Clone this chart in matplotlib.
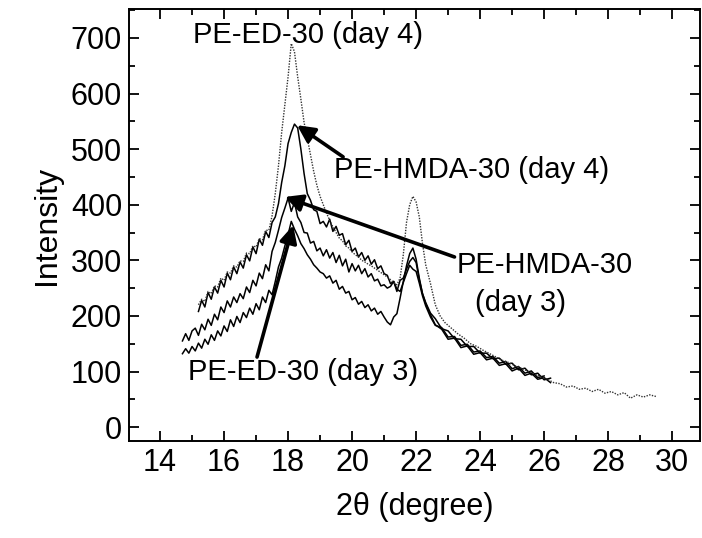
import numpy as np
import matplotlib
matplotlib.use("Agg")
import matplotlib.pyplot as plt
from matplotlib.ticker import MultipleLocator

plt.rcParams['font.family'] = ['Liberation Sans', 'DejaVu Sans']

# PE-ED-30 (day 3), sampled every 0.1 deg from 14.7 to 22.3, then the tail
ed3_y = [132, 141, 133,
         145, 137, 151, 142, 158, 149, 166, 156, 173, 164,
         182, 172, 193, 181, 199, 188, 206, 197, 214, 203,
         222, 211, 234, 224, 246, 238, 262, 288, 304, 326,
         346, 370, 356, 344, 330, 321, 310, 302, 292, 286,
         279, 276, 268, 272, 259, 264, 248, 253, 241, 244,
         229, 233, 221, 226, 215, 220, 209, 214, 203, 208,
         198, 189, 184, 198, 204, 232, 262, 290, 312, 322,
         302, 268, 240, 222]
ed3_tx = [22.45, 22.6, 22.8, 23.0, 23.2, 23.4, 23.6, 23.8, 24.0, 24.2,
          24.4, 24.6, 24.8, 25.0, 25.2, 25.4, 25.6, 25.8, 26.0, 26.2]
ed3_ty = [202, 184, 176, 158, 160, 143, 146, 131, 134, 121,
          124, 111, 114, 101, 106, 93, 97, 86, 89, 80]

# PE-HMDA-30 (day 3), 14.7 to 22.3
hm3_y = [155, 168, 156,
         173, 178, 165, 185, 175, 194, 183, 203, 193, 216,
         206, 227, 216, 234, 224, 240, 231, 252, 242, 264,
         254, 277, 267, 292, 281, 316, 332, 354, 377, 394,
         412, 388, 404, 378, 368, 350, 349, 331, 334, 317,
         322, 308, 319, 304, 314, 296, 309, 290, 302, 279,
         294, 281, 291, 276, 285, 270, 276, 263, 266, 254,
         256, 250, 253, 262, 248, 244, 260, 276, 291, 284,
         280, 259, 236, 218]
hm3_tx = [22.45, 22.6, 22.8, 23.0, 23.2, 23.4, 23.6, 23.8, 24.0, 24.2,
          24.4, 24.6, 24.8, 25.0, 25.2, 25.4, 25.6, 25.8, 26.0]
hm3_ty = [198, 183, 179, 162, 163, 147, 149, 135, 137, 125,
          127, 115, 118, 105, 109, 97, 101, 89, 92]

# PE-HMDA-30 (day 4), 15.2 to 22.3
hm4_y = [208, 228, 216, 242, 230, 252, 241, 264,
         252, 277, 265, 288, 276, 297, 286, 310, 299, 324,
         312, 338, 327, 352, 341, 368, 378, 402, 440, 470,
         510, 530, 545, 538, 500, 456, 420, 408, 391, 388,
         366, 370, 360, 374, 352, 361, 345, 348, 328, 336,
         316, 322, 306, 314, 300, 308, 293, 301, 285, 290,
         276, 273, 258, 262, 244, 264, 268, 284, 298, 305,
         296, 265, 240, 224]
hm4_tx = [22.45, 22.6, 22.8, 23.0, 23.2, 23.4, 23.6, 23.8, 24.0, 24.2,
          24.4, 24.6, 24.8, 25.0, 25.2, 25.4, 25.6, 25.8, 26.0, 26.2]
hm4_ty = [205, 195, 177, 173, 159, 158, 145, 145, 133, 133,
          123, 124, 113, 115, 103, 106, 94, 97, 85, 88]

# PE-ED-30 (day 4), 15.2 to 22.3
ed4_y = [220, 230, 226, 244, 240, 254, 252, 268,
         264, 279, 277, 290, 288, 299, 298, 313, 312, 326,
         324, 339, 337, 354, 354, 380, 420, 470, 530, 580,
         630, 690, 675, 630, 590, 548, 520, 490, 460, 435,
         415, 400, 385, 372, 360, 350, 340, 335, 326, 322,
         315, 310, 306, 300, 297, 293, 290, 286, 282, 278,
         274, 270, 265, 260, 256, 268, 310, 368, 400, 415,
         405, 378, 330, 292]
ed4_tx = [22.45, 22.6, 22.75, 22.9, 23.1, 23.3, 23.5, 23.7, 23.9, 24.1,
          24.3, 24.5, 24.7, 24.9, 25.1, 25.3, 25.5, 25.7, 25.9, 26.1,
          26.3, 26.5, 26.7, 26.9, 27.1, 27.3, 27.5, 27.7, 27.9, 28.1,
          28.3, 28.5, 28.7, 28.9, 29.1, 29.3, 29.5]
ed4_ty = [258, 220, 200, 188, 178, 168, 160, 150, 145, 138,
          132, 126, 120, 116, 110, 106, 100, 96, 90, 86,
          80, 78, 72, 74, 68, 70, 64, 68, 61, 64,
          58, 62, 52, 58, 54, 58, 55]


def build(x0, x1, y, tx, ty):
    x = np.linspace(x0, x1, len(y))
    return np.concatenate([x, tx]), np.concatenate([y, ty])


fig = plt.figure(figsize=(7.02, 5.38), dpi=100)
ax = fig.add_axes([129 / 702, 1 - 441 / 538, 571 / 702, 432 / 538])

x, y = build(14.7, 22.3, ed3_y, ed3_tx, ed3_ty)
ax.plot(x, y, color='k', lw=1.1)
x, y = build(14.7, 22.3, hm3_y, hm3_tx, hm3_ty)
ax.plot(x, y, color='k', lw=1.1)
x, y = build(15.2, 22.3, hm4_y, hm4_tx, hm4_ty)
ax.plot(x, y, color='k', lw=1.1)
x, y = build(15.2, 22.3, ed4_y, ed4_tx, ed4_ty)
ax.plot(x, y, color='#333333', lw=1.0, ls=(0, (1, 1)))

ax.set_xlim(13.03, 30.87)
ax.set_ylim(-25, 752)
ax.xaxis.set_major_locator(MultipleLocator(2))
ax.xaxis.set_minor_locator(MultipleLocator(1))
ax.yaxis.set_major_locator(MultipleLocator(100))
ax.yaxis.set_minor_locator(MultipleLocator(50))
ax.tick_params(which='both', direction='in', top=True, right=True,
               width=1.3, labelsize=22, pad=5)
ax.tick_params(which='major', length=7)
ax.tick_params(which='minor', length=4)
for s in ax.spines.values():
    s.set_linewidth(1.4)

ax.set_xlabel('2θ (degree)', fontsize=22, labelpad=10)
ax.set_ylabel('Intensity', fontsize=23, labelpad=6)

fs = 21
arrow = dict(arrowstyle='-|>', lw=2.6, color='k', mutation_scale=26,
             shrinkA=0, shrinkB=0)
ax.text(18.63, 705, 'PE-ED-30 (day 4)', fontsize=fs, ha='center', va='center')
ax.text(19.44, 462, 'PE-HMDA-30 (day 4)', fontsize=fs, ha='left', va='center')
ax.annotate('', xy=(18.28, 543), xytext=(19.72, 486), arrowprops=arrow)
ax.text(23.28, 291, 'PE-HMDA-30', fontsize=fs, ha='left', va='center')
ax.text(23.84, 223, '(day 3)', fontsize=fs, ha='left', va='center')
ax.annotate('', xy=(17.9, 414), xytext=(23.2, 306), arrowprops=arrow)
ax.text(14.88, 99, 'PE-ED-30 (day 3)', fontsize=fs, ha='left', va='center')
ax.annotate('', xy=(18.16, 363), xytext=(17.03, 126), arrowprops=arrow)

fig.savefig('out.png', dpi=100)
